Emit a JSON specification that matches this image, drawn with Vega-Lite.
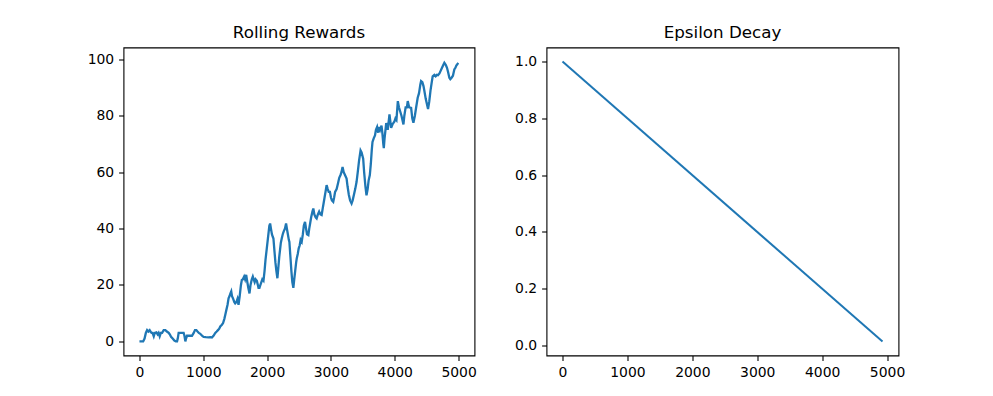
{
  "$schema": "https://vega.github.io/schema/vega-lite/v6.json",
  "background": "white",
  "padding": {"left": 86.5, "top": 24.5, "right": 5, "bottom": 5},
  "datasets": {
    "rewards": [
      {"episode": 0, "reward": 0}, {"episode": 30, "reward": 0}, {"episode": 58, "reward": 0}, {"episode": 80, "reward": 1}, {"episode": 100, "reward": 3}, {"episode": 120, "reward": 4}, {"episode": 140, "reward": 3.5}, {"episode": 160, "reward": 4}, {"episode": 172, "reward": 3.5}, {"episode": 190, "reward": 3}, {"episode": 205, "reward": 3}, {"episode": 224, "reward": 1.8}, {"episode": 240, "reward": 3}, {"episode": 266, "reward": 3.2}, {"episode": 285, "reward": 2.5}, {"episode": 300, "reward": 3}, {"episode": 317, "reward": 1.8}, {"episode": 335, "reward": 3}, {"episode": 354, "reward": 3}, {"episode": 380, "reward": 4}, {"episode": 406, "reward": 4}, {"episode": 430, "reward": 3.5}, {"episode": 458, "reward": 3}, {"episode": 475, "reward": 2.5}, {"episode": 495, "reward": 1.6}, {"episode": 520, "reward": 1}, {"episode": 547, "reward": 0.3}, {"episode": 570, "reward": 0}, {"episode": 589, "reward": 0}, {"episode": 600, "reward": 1}, {"episode": 614, "reward": 3}, {"episode": 640, "reward": 3}, {"episode": 665, "reward": 3}, {"episode": 692, "reward": 3}, {"episode": 705, "reward": 2}, {"episode": 719, "reward": 0}, {"episode": 730, "reward": 1}, {"episode": 745, "reward": 2}, {"episode": 770, "reward": 2}, {"episode": 800, "reward": 2}, {"episode": 823, "reward": 2}, {"episode": 850, "reward": 3}, {"episode": 870, "reward": 4}, {"episode": 891, "reward": 4}, {"episode": 910, "reward": 3.5}, {"episode": 930, "reward": 3}, {"episode": 953, "reward": 2.7}, {"episode": 980, "reward": 2}, {"episode": 1005, "reward": 1.6}, {"episode": 1040, "reward": 1.5}, {"episode": 1083, "reward": 1.4}, {"episode": 1110, "reward": 1.5}, {"episode": 1135, "reward": 1.4}, {"episode": 1160, "reward": 2}, {"episode": 1188, "reward": 3}, {"episode": 1210, "reward": 3.5}, {"episode": 1230, "reward": 4}, {"episode": 1250, "reward": 4.5}, {"episode": 1266, "reward": 5.3}, {"episode": 1292, "reward": 5.9}, {"episode": 1310, "reward": 6.5}, {"episode": 1330, "reward": 8}, {"episode": 1344, "reward": 9.4}, {"episode": 1360, "reward": 11}, {"episode": 1380, "reward": 13}, {"episode": 1396, "reward": 15.3}, {"episode": 1410, "reward": 16}, {"episode": 1425, "reward": 17}, {"episode": 1438, "reward": 17.7}, {"episode": 1450, "reward": 16}, {"episode": 1470, "reward": 15}, {"episode": 1485, "reward": 14}, {"episode": 1500, "reward": 13.5}, {"episode": 1520, "reward": 14}, {"episode": 1535, "reward": 15}, {"episode": 1552, "reward": 13}, {"episode": 1570, "reward": 16}, {"episode": 1590, "reward": 20}, {"episode": 1604, "reward": 21.8}, {"episode": 1620, "reward": 22}, {"episode": 1640, "reward": 23}, {"episode": 1655, "reward": 22}, {"episode": 1672, "reward": 23.6}, {"episode": 1690, "reward": 21}, {"episode": 1705, "reward": 19}, {"episode": 1724, "reward": 17}, {"episode": 1740, "reward": 20}, {"episode": 1760, "reward": 22}, {"episode": 1776, "reward": 23}, {"episode": 1790, "reward": 22}, {"episode": 1805, "reward": 21}, {"episode": 1820, "reward": 22}, {"episode": 1839, "reward": 21.5}, {"episode": 1855, "reward": 20}, {"episode": 1865, "reward": 19}, {"episode": 1880, "reward": 19}, {"episode": 1895, "reward": 20}, {"episode": 1910, "reward": 21}, {"episode": 1925, "reward": 22}, {"episode": 1943, "reward": 21.5}, {"episode": 1960, "reward": 25}, {"episode": 1975, "reward": 29}, {"episode": 1995, "reward": 33}, {"episode": 2010, "reward": 36}, {"episode": 2025, "reward": 39}, {"episode": 2035, "reward": 41}, {"episode": 2047, "reward": 41.8}, {"episode": 2060, "reward": 40}, {"episode": 2075, "reward": 38}, {"episode": 2090, "reward": 37}, {"episode": 2099, "reward": 36.5}, {"episode": 2115, "reward": 32}, {"episode": 2130, "reward": 28}, {"episode": 2145, "reward": 25}, {"episode": 2161, "reward": 22.4}, {"episode": 2175, "reward": 26}, {"episode": 2190, "reward": 30}, {"episode": 2205, "reward": 33}, {"episode": 2215, "reward": 35}, {"episode": 2229, "reward": 36.5}, {"episode": 2245, "reward": 38}, {"episode": 2260, "reward": 39}, {"episode": 2280, "reward": 40}, {"episode": 2297, "reward": 41.8}, {"episode": 2310, "reward": 40}, {"episode": 2325, "reward": 38}, {"episode": 2340, "reward": 36}, {"episode": 2349, "reward": 35.3}, {"episode": 2365, "reward": 30}, {"episode": 2380, "reward": 25}, {"episode": 2395, "reward": 21}, {"episode": 2411, "reward": 19}, {"episode": 2425, "reward": 22}, {"episode": 2440, "reward": 25}, {"episode": 2455, "reward": 28}, {"episode": 2464, "reward": 29.4}, {"episode": 2480, "reward": 31}, {"episode": 2495, "reward": 33}, {"episode": 2510, "reward": 34}, {"episode": 2525, "reward": 36}, {"episode": 2542, "reward": 35.3}, {"episode": 2560, "reward": 38}, {"episode": 2575, "reward": 41}, {"episode": 2594, "reward": 42.4}, {"episode": 2610, "reward": 40}, {"episode": 2625, "reward": 38}, {"episode": 2646, "reward": 37.7}, {"episode": 2660, "reward": 40}, {"episode": 2675, "reward": 42}, {"episode": 2690, "reward": 44}, {"episode": 2710, "reward": 46}, {"episode": 2724, "reward": 47.1}, {"episode": 2740, "reward": 45}, {"episode": 2760, "reward": 44}, {"episode": 2776, "reward": 43.6}, {"episode": 2795, "reward": 45}, {"episode": 2815, "reward": 46}, {"episode": 2835, "reward": 45}, {"episode": 2854, "reward": 44.8}, {"episode": 2870, "reward": 47}, {"episode": 2885, "reward": 49}, {"episode": 2900, "reward": 51}, {"episode": 2915, "reward": 53}, {"episode": 2932, "reward": 55.4}, {"episode": 2950, "reward": 54}, {"episode": 2965, "reward": 53}, {"episode": 2984, "reward": 53}, {"episode": 3000, "reward": 51}, {"episode": 3015, "reward": 50}, {"episode": 3036, "reward": 49.5}, {"episode": 3050, "reward": 51}, {"episode": 3065, "reward": 53}, {"episode": 3089, "reward": 54}, {"episode": 3110, "reward": 56}, {"episode": 3130, "reward": 58}, {"episode": 3150, "reward": 59}, {"episode": 3165, "reward": 60}, {"episode": 3182, "reward": 61.8}, {"episode": 3200, "reward": 60}, {"episode": 3220, "reward": 59}, {"episode": 3245, "reward": 57.7}, {"episode": 3260, "reward": 55}, {"episode": 3280, "reward": 52}, {"episode": 3300, "reward": 50}, {"episode": 3323, "reward": 48.9}, {"episode": 3340, "reward": 50}, {"episode": 3360, "reward": 52}, {"episode": 3380, "reward": 54}, {"episode": 3401, "reward": 56.5}, {"episode": 3420, "reward": 60}, {"episode": 3440, "reward": 64}, {"episode": 3464, "reward": 67.7}, {"episode": 3480, "reward": 67}, {"episode": 3505, "reward": 64.8}, {"episode": 3520, "reward": 60}, {"episode": 3540, "reward": 55}, {"episode": 3557, "reward": 51.8}, {"episode": 3575, "reward": 54}, {"episode": 3590, "reward": 57}, {"episode": 3609, "reward": 59}, {"episode": 3625, "reward": 63}, {"episode": 3640, "reward": 68}, {"episode": 3651, "reward": 70.7}, {"episode": 3670, "reward": 72}, {"episode": 3690, "reward": 73}, {"episode": 3705, "reward": 75}, {"episode": 3723, "reward": 76}, {"episode": 3740, "reward": 74}, {"episode": 3755, "reward": 76}, {"episode": 3770, "reward": 75}, {"episode": 3792, "reward": 76.5}, {"episode": 3805, "reward": 74}, {"episode": 3820, "reward": 70}, {"episode": 3828, "reward": 68.5}, {"episode": 3840, "reward": 72}, {"episode": 3866, "reward": 77.4}, {"episode": 3890, "reward": 75}, {"episode": 3917, "reward": 80.5}, {"episode": 3943, "reward": 75.7}, {"episode": 3965, "reward": 77}, {"episode": 3995, "reward": 78}, {"episode": 4010, "reward": 79}, {"episode": 4026, "reward": 78.5}, {"episode": 4048, "reward": 85.2}, {"episode": 4065, "reward": 83}, {"episode": 4084, "reward": 81.6}, {"episode": 4105, "reward": 80}, {"episode": 4136, "reward": 76.9}, {"episode": 4150, "reward": 80}, {"episode": 4170, "reward": 83}, {"episode": 4190, "reward": 83}, {"episode": 4203, "reward": 85.2}, {"episode": 4225, "reward": 83}, {"episode": 4256, "reward": 82.8}, {"episode": 4275, "reward": 79}, {"episode": 4292, "reward": 77.5}, {"episode": 4315, "reward": 80}, {"episode": 4335, "reward": 83}, {"episode": 4359, "reward": 86.4}, {"episode": 4380, "reward": 88}, {"episode": 4400, "reward": 91}, {"episode": 4412, "reward": 92.3}, {"episode": 4432, "reward": 91.9}, {"episode": 4450, "reward": 90.5}, {"episode": 4464, "reward": 88.8}, {"episode": 4485, "reward": 86}, {"episode": 4500, "reward": 84.5}, {"episode": 4521, "reward": 82.4}, {"episode": 4540, "reward": 85}, {"episode": 4560, "reward": 89}, {"episode": 4580, "reward": 92}, {"episode": 4594, "reward": 94}, {"episode": 4620, "reward": 94.5}, {"episode": 4640, "reward": 94}, {"episode": 4660, "reward": 94.5}, {"episode": 4677, "reward": 94.4}, {"episode": 4700, "reward": 95}, {"episode": 4720, "reward": 96}, {"episode": 4740, "reward": 97}, {"episode": 4760, "reward": 98}, {"episode": 4777, "reward": 98.8}, {"episode": 4800, "reward": 98}, {"episode": 4818, "reward": 97}, {"episode": 4835, "reward": 95.5}, {"episode": 4855, "reward": 93.5}, {"episode": 4870, "reward": 93}, {"episode": 4890, "reward": 93.5}, {"episode": 4911, "reward": 94.2}, {"episode": 4933, "reward": 96.4}, {"episode": 4950, "reward": 97}, {"episode": 4964, "reward": 97.8}, {"episode": 4985, "reward": 98.4}, {"episode": 4999, "reward": 98.2}
    ],
    "epsilon": [
      {"episode": 0, "epsilon": 1.0},
      {"episode": 4930, "epsilon": 0.014}
    ]
  },
  "config": {
    "font": "DejaVu Sans",
    "view": {"stroke": "#000000", "strokeWidth": 1.1},
    "axis": {
      "grid": false,
      "domain": false,
      "labelFont": "DejaVu Sans",
      "labelFontSize": 13.9,
      "labelColor": "#000000",
      "tickColor": "#000000",
      "tickWidth": 1.1,
      "tickSize": 4.9,
      "labelPadding": 4.9,
      "title": null
    },
    "title": {"font": "DejaVu Sans", "fontSize": 16.7, "fontWeight": "normal", "color": "#000000", "offset": 5.5}
  },
  "hconcat": [
    {
      "title": "Rolling Rewards",
      "width": 351,
      "height": 308,
      "data": {"name": "rewards"},
      "mark": {"type": "line", "color": "#1f77b4", "strokeWidth": 2.3, "clip": true},
      "encoding": {
        "x": {"field": "episode", "type": "quantitative", "scale": {"domain": [-250, 5249], "nice": false, "zero": false}, "axis": {"values": [0, 1000, 2000, 3000, 4000, 5000], "format": "d", "labelFlush": false}},
        "y": {"field": "reward", "type": "quantitative", "scale": {"domain": [-5, 104.2], "nice": false, "zero": false}, "axis": {"values": [0, 20, 40, 60, 80, 100], "format": "d"}}
      }
    },
    {
      "title": "Epsilon Decay",
      "width": 352,
      "height": 308,
      "data": {"name": "epsilon"},
      "mark": {"type": "line", "color": "#1f77b4", "strokeWidth": 2, "clip": true},
      "encoding": {
        "x": {"field": "episode", "type": "quantitative", "scale": {"domain": [-246.5, 5176.5], "nice": false, "zero": false}, "axis": {"values": [0, 1000, 2000, 3000, 4000, 5000], "format": "d", "labelFlush": false}},
        "y": {"field": "epsilon", "type": "quantitative", "scale": {"domain": [-0.035, 1.049], "nice": false, "zero": false}, "axis": {"values": [0, 0.2, 0.4, 0.6, 0.8, 1.0], "format": ".1f"}}
      }
    }
  ],
  "spacing": 36
}
